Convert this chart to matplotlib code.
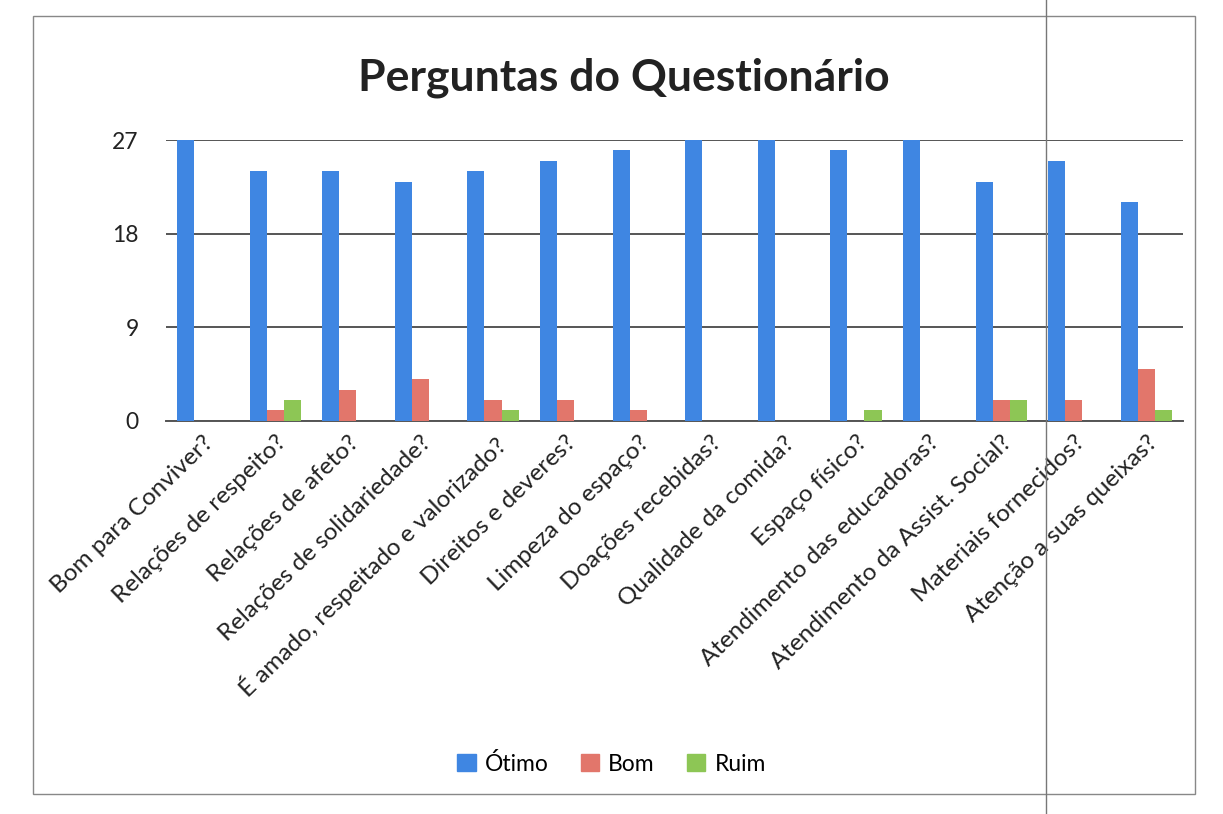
import matplotlib
matplotlib.use("Agg")
import matplotlib.pyplot as plt
import numpy as np
from matplotlib.patches import Rectangle
from matplotlib.lines import Line2D

categories = [
    "Bom para Conviver?", "Relações de respeito?", "Relações de afeto?",
    "Relações de solidariedade?", "É amado, respeitado e valorizado?",
    "Direitos e deveres?", "Limpeza do espaço?", "Doações recebidas?",
    "Qualidade da comida?", "Espaço físico?", "Atendimento das educadoras?",
    "Atendimento da Assist. Social?", "Materiais fornecidos?",
    "Atenção a suas queixas?",
]
otimo = [27, 24, 24, 23, 24, 25, 26, 27, 27, 26, 27, 23, 25, 21]
bom   = [0, 1, 3, 4, 2, 2, 1, 0, 0, 0, 0, 2, 2, 5]
ruim  = [0, 2, 0, 0, 1, 0, 0, 0, 0, 1, 0, 2, 0, 1]
series_names = ["Ótimo", "Bom", "Ruim"]
colors = ["#3F86E2", "#E2766B", "#8DC655"]
yticks = [0, 9, 18, 27]

plt.rcParams['font.family'] = ['Lato', 'DejaVu Sans']

fig = plt.figure(figsize=(12.23, 8.14), dpi=100)
ax = fig.add_axes([0.136, 0.483, 0.831, 0.345])

x = np.arange(len(categories))
w = 0.235
for i, (vals, name, c) in enumerate(zip([otimo, bom, ruim], series_names, colors)):
    ax.bar(x + (i - 1) * w, vals, width=w, color=c, label=name, zorder=3)

ax.set_xlim(-0.5, len(categories) - 0.5)
ax.set_ylim(0, 27)
ax.set_yticks(yticks)
ax.set_yticklabels([str(t) for t in yticks], fontsize=16.5, color="#222222")
ax.yaxis.grid(True, color="#555555", linewidth=1.4, zorder=0)
ax.set_axisbelow(True)
for s in ["left", "right", "top"]:
    ax.spines[s].set_visible(False)
ax.spines["bottom"].set_color("#555555")
ax.spines["bottom"].set_linewidth(1.4)
ax.tick_params(axis="y", length=0, pad=20)
ax.tick_params(axis="x", length=0, pad=8)
ax.set_xticks(x)
ax.set_xticklabels(categories, rotation=44, ha="right", rotation_mode="anchor",
                   fontsize=17.5, color="#222222")

fig.text(0.51, 0.905, "Perguntas do Questionário", ha="center", va="center",
         fontsize=32, fontweight="bold", color="#222222")

handles = [Rectangle((0, 0), 1, 1, color=c) for c in colors]
fig.legend(handles, series_names, loc="center", bbox_to_anchor=(0.5, 0.062),
           ncol=3, frameon=False, fontsize=16.5, handlelength=0.8, handleheight=0.8,
           handletextpad=0.4, columnspacing=1.4)

# outer chart border
fig.add_artist(Rectangle((0.027, 0.025), 0.95, 0.955, transform=fig.transFigure,
                         fill=False, edgecolor="#888888", linewidth=1.0))
# page fold line
fig.add_artist(Line2D([0.855, 0.855], [0.0, 1.0], transform=fig.transFigure,
                      color="#777777", linewidth=1.0))

fig.savefig("out.png", dpi=100, facecolor="white")
